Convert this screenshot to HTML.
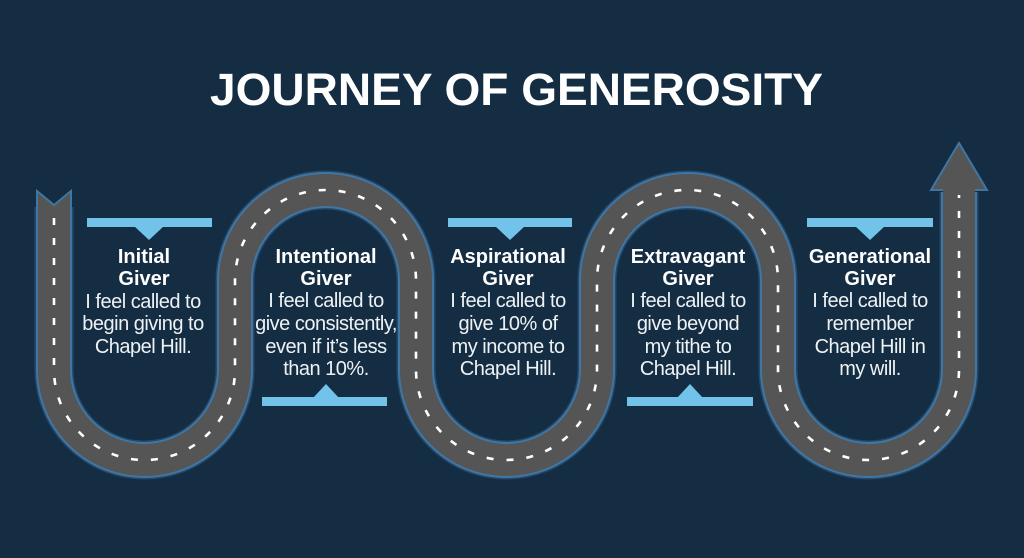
<!DOCTYPE html>
<html>
<head>
<meta charset="utf-8">
<style>
  html, body { margin: 0; padding: 0; background: #142d43; }
  body { width: 1024px; height: 558px; overflow: hidden; }
  svg { display: block; }
  .h { font-family: "Liberation Sans", sans-serif; font-weight: bold; font-size: 20px; fill: #ffffff; text-anchor: middle; }
  .b { font-family: "Liberation Sans", sans-serif; font-size: 20px; letter-spacing: -0.5px; fill: #eef2f5; text-anchor: middle; }
</style>
</head>
<body>
<svg width="1024" height="558" viewBox="0 0 1024 558" xmlns="http://www.w3.org/2000/svg">
  <rect x="0" y="0" width="1024" height="558" fill="#142d43"/>

  <!-- Title -->
  <text x="210" y="105" textLength="613" lengthAdjust="spacingAndGlyphs"
        style="font-family:'Liberation Sans',sans-serif;font-weight:bold;font-size:45px;fill:#ffffff;">JOURNEY OF GENEROSITY</text>

  <!-- Road glow -->
  <path d="M54,207 V369.5 A90.5,90.5 0 0 0 235,369.5 V280.5 A90.5,90.5 0 0 1 416,280.5 V369.5 A90.5,90.5 0 0 0 597,369.5 V280.5 A90.5,90.5 0 0 1 778,280.5 V369.5 A90.5,90.5 0 0 0 959,369.5 V192"
        fill="none" stroke="#24496b" stroke-width="39"/>
  <!-- Road blue edge -->
  <path d="M54,207 V369.5 A90.5,90.5 0 0 0 235,369.5 V280.5 A90.5,90.5 0 0 1 416,280.5 V369.5 A90.5,90.5 0 0 0 597,369.5 V280.5 A90.5,90.5 0 0 1 778,280.5 V369.5 A90.5,90.5 0 0 0 959,369.5 V192"
        fill="none" stroke="#3f76a3" stroke-width="36"/>

  <!-- Notch start -->
  <polygon points="37,191 54,205 71,191 71,214 37,214" fill="#555555" stroke="#3f76a3" stroke-width="2" stroke-linejoin="miter"/>
  <!-- Arrow head -->
  <polygon points="931,190 959,143 987,190" fill="#555555" stroke="#3f76a3" stroke-width="2" stroke-linejoin="miter"/>

  <!-- Road gray -->
  <path d="M54,208 V369.5 A90.5,90.5 0 0 0 235,369.5 V280.5 A90.5,90.5 0 0 1 416,280.5 V369.5 A90.5,90.5 0 0 0 597,369.5 V280.5 A90.5,90.5 0 0 1 778,280.5 V369.5 A90.5,90.5 0 0 0 959,369.5 V188"
        fill="none" stroke="#555555" stroke-width="32"/>

  <!-- Center dashes -->
  <path d="M54,211 V369.5 A90.5,90.5 0 0 0 235,369.5 V280.5 A90.5,90.5 0 0 1 416,280.5 V369.5 A90.5,90.5 0 0 0 597,369.5 V280.5 A90.5,90.5 0 0 1 778,280.5 V369.5 A90.5,90.5 0 0 0 959,369.5 V195"
        fill="none" stroke="#ffffff" stroke-width="2.6" stroke-dasharray="7 13" stroke-dashoffset="-7"/>

  <!-- Top bars -->
  <g fill="#72c3ea">
    <rect x="87" y="218" width="125" height="9"/>
    <polygon points="134,226 164,226 149,240"/>
    <rect x="448" y="218" width="124" height="9"/>
    <polygon points="495,226 525,226 510,240"/>
    <rect x="807" y="218" width="126" height="9"/>
    <polygon points="855,226 885,226 870,240"/>
    <!-- Bottom bars -->
    <rect x="262" y="397" width="125" height="9"/>
    <polygon points="313,398 339,398 326,384"/>
    <rect x="627" y="397" width="126" height="9"/>
    <polygon points="677,398 703,398 690,384"/>
  </g>

  <!-- Column 1 -->
  <text class="h" x="144" y="263">Initial</text>
  <text class="h" x="144" y="285">Giver</text>
  <text class="b" x="143" y="308">I feel called to</text>
  <text class="b" x="143" y="330">begin giving to</text>
  <text class="b" x="143" y="353">Chapel Hill.</text>

  <!-- Column 2 -->
  <text class="h" x="326" y="263">Intentional</text>
  <text class="h" x="326" y="285">Giver</text>
  <text class="b" x="326" y="307">I feel called to</text>
  <text class="b" x="326" y="330">give consistently,</text>
  <text class="b" x="326" y="353">even if it’s less</text>
  <text class="b" x="326" y="375">than 10%.</text>

  <!-- Column 3 -->
  <text class="h" x="508" y="263">Aspirational</text>
  <text class="h" x="508" y="285">Giver</text>
  <text class="b" x="508" y="307">I feel called to</text>
  <text class="b" x="508" y="330">give 10% of</text>
  <text class="b" x="508" y="353">my income to</text>
  <text class="b" x="508" y="375">Chapel Hill.</text>

  <!-- Column 4 -->
  <text class="h" x="688" y="263">Extravagant</text>
  <text class="h" x="688" y="285">Giver</text>
  <text class="b" x="688" y="307">I feel called to</text>
  <text class="b" x="688" y="330">give beyond</text>
  <text class="b" x="688" y="353">my tithe to</text>
  <text class="b" x="688" y="375">Chapel Hill.</text>

  <!-- Column 5 -->
  <text class="h" x="870" y="263">Generational</text>
  <text class="h" x="870" y="285">Giver</text>
  <text class="b" x="870" y="307">I feel called to</text>
  <text class="b" x="870" y="330">remember</text>
  <text class="b" x="870" y="353">Chapel Hill in</text>
  <text class="b" x="870" y="375">my will.</text>
</svg>
</body>
</html>
